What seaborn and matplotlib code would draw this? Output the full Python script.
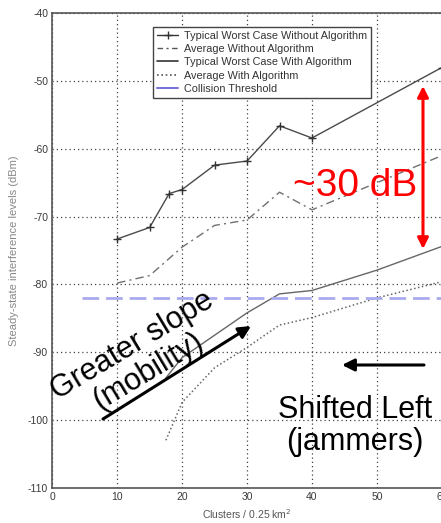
import matplotlib
matplotlib.use('Agg')
import matplotlib.pyplot as plt
from matplotlib.lines import Line2D
import seaborn as sns

# ---------------- data ----------------
wc_wo_x = [10, 15, 18, 20, 25, 30, 35, 40, 60]
wc_wo_y = [-73.3, -71.6, -66.6, -66.0, -62.4, -61.8, -56.6, -58.4, -48.0]

avg_wo_x = [10, 15, 20, 25, 30, 35, 40, 60]
avg_wo_y = [-79.8, -78.7, -74.5, -71.3, -70.5, -66.4, -69.0, -61.0]

wc_w_x = [17.5, 20, 25, 30, 35, 40, 50, 60]
wc_w_y = [-93.8, -90.8, -87.5, -84.2, -81.4, -80.9, -77.9, -74.4]

avg_w_x = [17.5, 20, 25, 30, 35, 40, 50, 60]
avg_w_y = [-103.0, -97.4, -92.3, -89.3, -86.0, -84.9, -82.0, -79.6]

thr_x = [4.6, 60]
thr_y = [-82, -82]

series_labels = ["Typical Worst Case Without Algorithm",
                 "Average Without Algorithm",
                 "Typical Worst Case With Algorithm",
                 "Average With Algorithm",
                 "Collision Threshold"]

x_ticks = [0, 10, 20, 30, 40, 50, 60]
x_tick_labels = ["0", "10", "20", "30", "40", "50", "60"]
y_ticks = [-110, -100, -90, -80, -70, -60, -50, -40]
y_tick_labels = ["-110", "-100", "-90", "-80", "-70", "-60", "-50", "-40"]

x_label = "Clusters / 0.25 km$^2$"
y_label = "Steady-state interference levels (dBm)"

note_db = "~30 dB"
note_slope = "Greater slope\n(mobility)"
note_shift = "Shifted Left\n(jammers)"

# ---------------- figure ----------------
W, H = 441, 523
sns.set_theme(style='white')
plt.rcParams['font.family'] = ['Liberation Sans', 'DejaVu Sans']

fig = plt.figure(figsize=(W / 100, H / 100), dpi=100)
ax = fig.add_axes([52.3 / W, 1 - 487.7 / H, 389.5 / W, (487.7 - 13.3) / H])


def P(x, y):
    return (x / W, 1 - y / H)


sns.lineplot(x=wc_wo_x, y=wc_wo_y, ax=ax, color='#4a4a4a', lw=1.0,
             marker='+', markersize=5.5, markeredgewidth=1.0, markeredgecolor='#333333')
sns.lineplot(x=avg_wo_x, y=avg_wo_y, ax=ax, color='#707070', lw=1.0,
             linestyle=(0, (6, 3, 1.5, 3)))
sns.lineplot(x=wc_w_x, y=wc_w_y, ax=ax, color='#666666', lw=1.0)
sns.lineplot(x=avg_w_x, y=avg_w_y, ax=ax, color='#666666', lw=1.1,
             linestyle=(0, (1, 1.6)))
sns.lineplot(x=thr_x, y=thr_y, ax=ax, color='#aaaaee', lw=2.0,
             linestyle=(0, (6, 2.5)))

ax.set_xlim(0, 60)
ax.set_ylim(-110, -40)
ax.set_xticks(x_ticks)
ax.set_xticklabels(x_tick_labels)
ax.set_yticks(y_ticks)
ax.set_yticklabels(y_tick_labels)
ax.tick_params(axis='both', direction='in', length=3, width=0.8, colors='#444444',
               labelsize=7.5, pad=3, labelcolor='#3a3a3a')
ax.grid(True, color='#444444', linestyle=(0, (1, 2.4)), lw=0.9)
ax.set_axisbelow(True)
for s in ax.spines.values():
    s.set_color('#555555')
    s.set_linewidth(1.2)

ax.set_xlabel(x_label, fontsize=7.5, color='#555555', labelpad=4)
ax.set_ylabel(y_label, fontsize=8.0, color='#888888', labelpad=6)

# legend
handles = [
    Line2D([], [], color='#333333', lw=1.0, marker='+', markersize=6),
    Line2D([], [], color='#555555', lw=1.0, linestyle=(0, (4, 2.5, 1.5, 2.5))),
    Line2D([], [], color='#333333', lw=1.2),
    Line2D([], [], color='#555555', lw=1.2, linestyle=(0, (1, 1.6))),
    Line2D([], [], color='#7070d8', lw=1.4),
]
leg = ax.legend(handles, series_labels, loc='upper left',
                bbox_to_anchor=P(153, 27), bbox_transform=fig.transFigure,
                fontsize=7.8, frameon=True, fancybox=False, framealpha=1,
                edgecolor='#444444', borderaxespad=0, borderpad=0.35,
                labelspacing=0.3, handlelength=2.0, handletextpad=0.5)
leg.get_frame().set_linewidth(1.0)
for t in leg.get_texts():
    t.set_color('#333333')

# annotations
fig.text(*P(355, 186), note_db, color='red', fontsize=28, ha='center', va='center')
ax.annotate('', xy=P(423, 86), xytext=P(423, 249), xycoords='figure fraction',
            textcoords='figure fraction',
            arrowprops=dict(arrowstyle='<|-|>', color='red', lw=2.2,
                            mutation_scale=16, shrinkA=0, shrinkB=0))

fig.text(*P(140, 359), note_slope, color='black', fontsize=22, ha='center',
         va='center', rotation=31, rotation_mode='anchor', multialignment='center',
         linespacing=1.0)
ax.annotate('', xy=P(251, 326), xytext=P(103, 419), xycoords='figure fraction',
            textcoords='figure fraction',
            arrowprops=dict(arrowstyle='-|>', color='black', lw=2.2,
                            mutation_scale=18, shrinkA=0, shrinkB=0))

fig.text(*P(355, 426), note_shift, color='black', fontsize=22, ha='center',
         va='center', multialignment='center', linespacing=1.05)
ax.annotate('', xy=P(342, 365), xytext=P(424, 365), xycoords='figure fraction',
            textcoords='figure fraction',
            arrowprops=dict(arrowstyle='-|>', color='black', lw=2.2,
                            mutation_scale=18, shrinkA=0, shrinkB=0))

fig.savefig('out.png', dpi=100)
